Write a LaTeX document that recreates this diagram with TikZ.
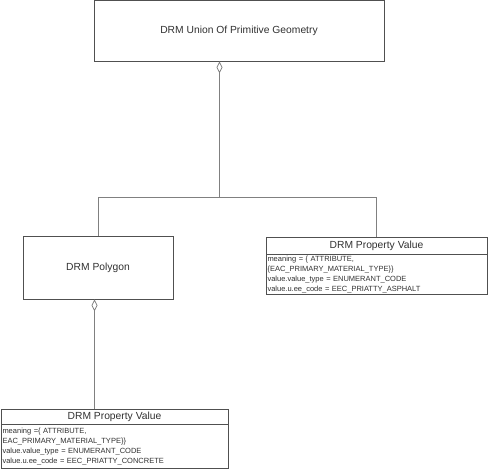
\documentclass[tikz,border=0pt]{standalone}
\usepackage{fontspec}
\setmainfont{Liberation Sans}
\usetikzlibrary{arrows.meta}
\definecolor{boxline}{HTML}{505050}
\definecolor{connline}{HTML}{808080}
\definecolor{txt}{HTML}{303030}
\begin{document}
\begin{tikzpicture}[x=1pt,y=-1pt,
  box/.style={draw=boxline, line width=0.9pt, rectangle, inner sep=0pt, text=txt, font=\fontsize{10.3}{12}\selectfont},
  body/.style={draw=boxline, line width=0.9pt, rectangle, inner sep=1.5pt, text=txt, align=left, font=\fontsize{7.5}{10}\selectfont},
  conn/.style={draw=connline, line width=0.9pt},
  agg/.style={conn, {Diamond[open, length=12pt, width=6pt, line width=0.8pt]}-}
]
\useasboundingbox (0,0) rectangle (488,469);
% top box: x 94..384, y 0.5..61
\node[box, minimum width=290pt, minimum height=60.5pt] (top) at (239,30.75) {DRM Union Of Primitive Geometry};
% polygon: x 23..173, y 236..299
\node[box, minimum width=150pt, minimum height=63pt] (poly) at (98,267.5) {DRM Polygon};
% right property value: x 266..487, title 237..254, body 254..293
\node[box, minimum width=221pt, minimum height=17pt] (pv1t) at (376.5,245.5) {DRM Property Value};
\node[body, text width=218pt, minimum height=39pt, anchor=north] (pv1b) at (pv1t.south) {meaning = \{ ATTRIBUTE,\\\{EAC\_PRIMARY\_MATERIAL\_TYPE\}\}\\value.value\_type = ENUMERANT\_CODE\\value.u.ee\_code = EEC\_PRIATTY\_ASPHALT};
% bottom property value: x 1..228, title 409..424, body 424..468
\node[box, minimum width=227pt, minimum height=15pt] (pv2t) at (114.5,416.5) {DRM Property Value};
\node[body, text width=224pt, minimum height=44pt, anchor=north] (pv2b) at (pv2t.south) {meaning =\{ ATTRIBUTE,\\EAC\_PRIMARY\_MATERIAL\_TYPE\}\}\\value.value\_type = ENUMERANT\_CODE\\value.u.ee\_code = EEC\_PRIATTY\_CONCRETE};
% junction
\coordinate (j) at (219.5,197);
\draw[agg] (top.south -| j) -- (j);
\draw[conn] (poly.north) -- (poly.north |- j) -- (pv1t.north |- j) -- (pv1t.north);
\draw[agg] ([xshift=-3.5pt]poly.south) -- ([xshift=-3.5pt]poly.south |- pv2t.north);
\end{tikzpicture}
\end{document}
